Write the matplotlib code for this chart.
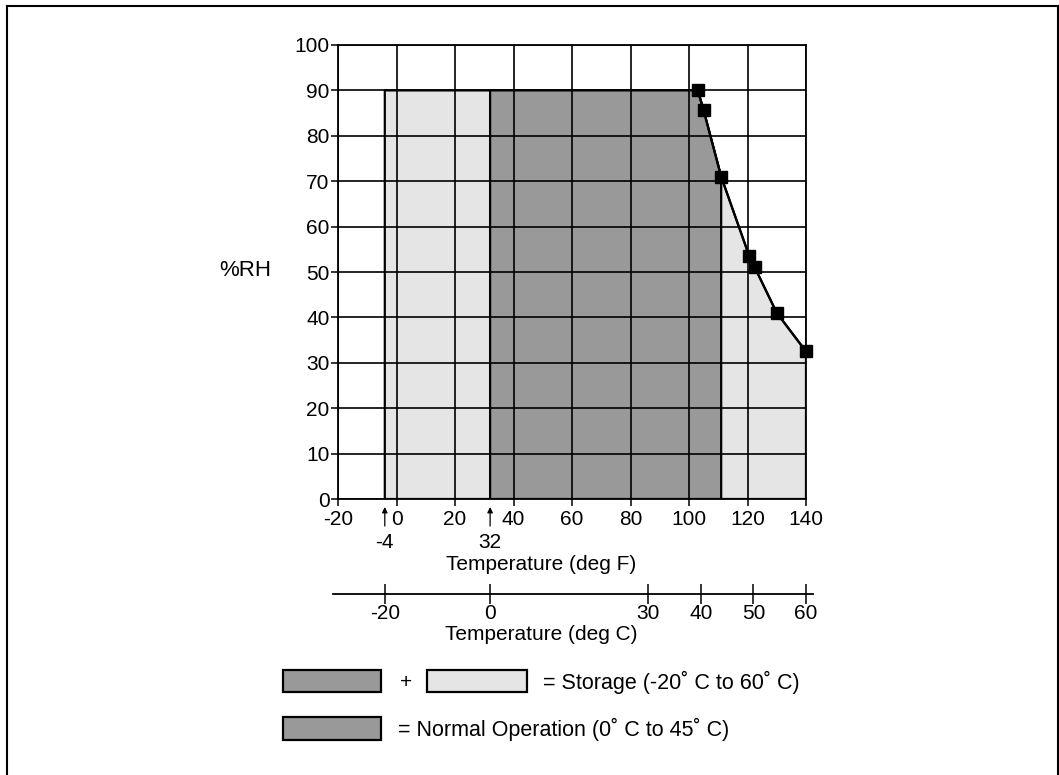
import numpy as np
import matplotlib
matplotlib.use('Agg')
import matplotlib.pyplot as plt
from matplotlib.patches import Polygon, Rectangle
from matplotlib.lines import Line2D
from matplotlib.transforms import offset_copy

plt.rcParams['font.family'] = ['Liberation Sans', 'DejaVu Sans']
plt.rcParams['font.size'] = 15
plt.rcParams['axes.unicode_minus'] = False

# data (deg F / %RH)
curve_f = [103, 105, 111, 120.6, 122.5, 130, 140]
curve_rh = [90, 85.6, 71, 53.5, 51, 41, 32.5]
storage_f = (-4, 140)
normal_f = (32, 111)
rh_max = 90
f_ticks = [-20, 0, 20, 40, 60, 80, 100, 120, 140]
rh_ticks = [0, 10, 20, 30, 40, 50, 60, 70, 80, 90, 100]
c_ticks = [-20, 0, 30, 40, 50, 60]
marked_f = [-4, 32]

light = '#e5e5e5'
dark = '#999999'
fs = 15

W, H = 1059, 775
fig = plt.figure(figsize=(W / 100, H / 100), dpi=100)

# plot area in pixels
px_l, px_r, px_t, px_b = 338, 806, 45, 499
ax = fig.add_axes([px_l / W, 1 - px_b / H, (px_r - px_l) / W, (px_b - px_t) / H])
ax.set_xlim(f_ticks[0], f_ticks[-1])
ax.set_ylim(rh_ticks[0], rh_ticks[-1])

cf = np.array(curve_f)
cr = np.array(curve_rh)

# storage region (light)
light_pts = [(storage_f[0], 0), (storage_f[0], rh_max)] + list(zip(cf, cr)) + [(storage_f[1], 0)]
ax.add_patch(Polygon(light_pts, closed=True, facecolor=light, edgecolor='black', lw=1.6, zorder=1))
# normal operation region (dark)
m = cf <= normal_f[1]
dark_pts = [(normal_f[0], 0), (normal_f[0], rh_max)] + list(zip(cf[m], cr[m])) + [(normal_f[1], 0)]
ax.add_patch(Polygon(dark_pts, closed=True, facecolor=dark, edgecolor='black', lw=1.6, zorder=1.1))

ax.plot(cf, cr, color='black', lw=1.6, marker='s', ms=8, zorder=3, clip_on=False)

ax.set_xticks(f_ticks)
ax.set_yticks(rh_ticks)
ax.grid(True, color='black', lw=1.2)
for s in ax.spines.values():
    s.set_linewidth(1.3)
ax.tick_params(direction='out', length=5, width=1.1, labelsize=fs)
ax.tick_params(axis='x', pad=3)
ax.tick_params(axis='y', pad=1)

ax.set_ylabel('%RH', rotation=0, fontsize=16, ha='center', va='center')
ax.yaxis.set_label_coords((245 - px_l) / (px_r - px_l), (px_b - 270) / (px_b - px_t))
ax.set_xlabel('Temperature (deg F)', fontsize=fs, va='center')
ax.xaxis.set_label_coords((541 - px_l) / (px_r - px_l), (px_b - 564) / (px_b - px_t))

# arrows at -4 F and 32 F
tip = offset_copy(ax.transData, fig=fig, x=0, y=-8, units='dots')
tail = offset_copy(ax.transData, fig=fig, x=0, y=-27, units='dots')
lab = offset_copy(ax.transData, fig=fig, x=0, y=-43, units='dots')
for f in marked_f:
    ax.annotate('', xy=(f, 0), xycoords=tip, xytext=(f, 0), textcoords=tail,
                arrowprops=dict(arrowstyle='-|>', color='black', lw=0.9,
                                shrinkA=0, shrinkB=0, mutation_scale=8),
                annotation_clip=False)
    ax.text(f, 0, str(f), transform=lab, ha='center', va='center', fontsize=fs)

# Celsius axis
ppf = (px_r - px_l) / (f_ticks[-1] - f_ticks[0])
c_l, c_r, c_y = 333, 813, 594
f_lo = f_ticks[0] + (c_l - px_l) / ppf
f_hi = f_ticks[0] + (c_r - px_l) / ppf
cax = fig.add_axes([c_l / W, 1 - c_y / H, (c_r - c_l) / W, 0.0001])
cax.set_xlim((f_lo - 32) / 1.8, (f_hi - 32) / 1.8)
cax.set_yticks([])
for k in ['left', 'right', 'top']:
    cax.spines[k].set_visible(False)
cax.spines['bottom'].set_linewidth(1.3)
cax.patch.set_alpha(0)
cax.set_xticks(c_ticks)
cax.tick_params(axis='x', direction='inout', length=15, width=1.1, pad=0, labelsize=fs)
cax.set_xlabel('Temperature (deg C)', fontsize=fs, va='center')
cax.xaxis.set_label_coords(541 / W, 1 - 635 / H, transform=fig.transFigure)

# legend boxes
def box(x0, x1, y0, y1, color):
    fig.patches.append(Rectangle((x0 / W, 1 - y1 / H), (x1 - x0) / W, (y1 - y0) / H,
                                 transform=fig.transFigure, facecolor=color,
                                 edgecolor='black', lw=1.6))

box(283, 381, 670, 692, dark)
box(427, 527, 670, 692, light)
box(283, 381, 717, 740, dark)
fig.text(406 / W, 1 - 682 / H, '+', ha='center', va='center', fontsize=fs)
fig.text(543 / W, 1 - 682 / H, '= Storage (-20\u02da C to 60\u02da C)', ha='left', va='center', fontsize=15.5)
fig.text(398 / W, 1 - 729 / H, '= Normal Operation (0\u02da C to 45\u02da C)', ha='left', va='center', fontsize=15.5)

# outer frame
for xs, ys in [([7, 1057.5], [6, 6]), ([7, 7], [6, H]), ([1057.5, 1057.5], [6, H])]:
    fig.lines.append(Line2D([x / W for x in xs], [1 - y / H for y in ys],
                            transform=fig.transFigure, color='black', lw=1.5))

fig.savefig('out.png', dpi=100)
